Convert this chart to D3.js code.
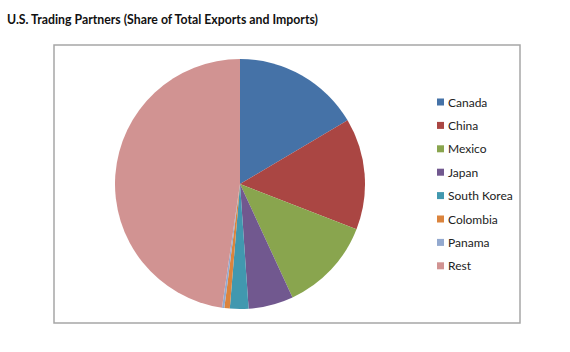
<!DOCTYPE html>
<html>
<head>
<meta charset="utf-8">
<script src="https://cdn.jsdelivr.net/npm/d3@7"></script>
<style>
  body { margin: 0; background: #fff; }
  text { font-family: Lato, "Open Sans", sans-serif; }
</style>
</head>
<body>
<div id="chart"></div>
<script>
const partners = ["Canada", "China", "Mexico", "Japan", "South Korea", "Colombia", "Panama", "Rest"];
const shares = [16.5, 14.4, 12.2, 5.8, 2.4, 0.7, 0.3, 47.7];
const colors = ["#4572A7", "#AA4643", "#89A54E", "#71588F", "#4198AF", "#DB843D", "#93A9CF", "#D19392"];

const width = 570, height = 352;
const svg = d3.select("#chart").append("svg")
    .attr("width", width)
    .attr("height", height);

svg.append("text")
    .attr("x", 7)
    .attr("y", 24)
    .style("font-size", "13.5px")
    .style("font-weight", "bold")
    .attr("fill", "#111")
    .attr("textLength", 311)
    .attr("lengthAdjust", "spacingAndGlyphs")
    .text("U.S. Trading Partners (Share of Total Exports and Imports)");

// plot border
svg.append("rect")
    .attr("x", 54)
    .attr("y", 45)
    .attr("width", 466)
    .attr("height", 278)
    .attr("fill", "#fff")
    .attr("stroke", "#a6a6a6")
    .attr("stroke-width", 1.5);

const color = d3.scaleOrdinal().domain(partners).range(colors);
const data = partners.map((p, i) => ({ name: p, value: shares[i] }));

const pie = d3.pie().value(d => d.value).sort(null);
const arc = d3.arc().innerRadius(0).outerRadius(125);

const g = svg.append("g").attr("transform", "translate(240,184)");
g.selectAll("path")
    .data(pie(data))
    .enter().append("path")
    .attr("d", arc)
    .attr("fill", d => color(d.data.name));

// legend
const legend = svg.append("g").attr("transform", "translate(437,102)");
const items = legend.selectAll(".legend-item")
    .data(partners)
    .enter().append("g")
    .attr("class", "legend-item")
    .attr("transform", (d, i) => `translate(0, ${i * 23.4})`);

items.append("rect")
    .attr("x", 0)
    .attr("y", -3.5)
    .attr("width", 7)
    .attr("height", 7)
    .attr("fill", d => color(d));

items.append("text")
    .attr("x", 11)
    .attr("y", 4.5)
    .style("font-size", "12px")
    .attr("fill", "#222")
    .text(d => d);
</script>
</body>
</html>
